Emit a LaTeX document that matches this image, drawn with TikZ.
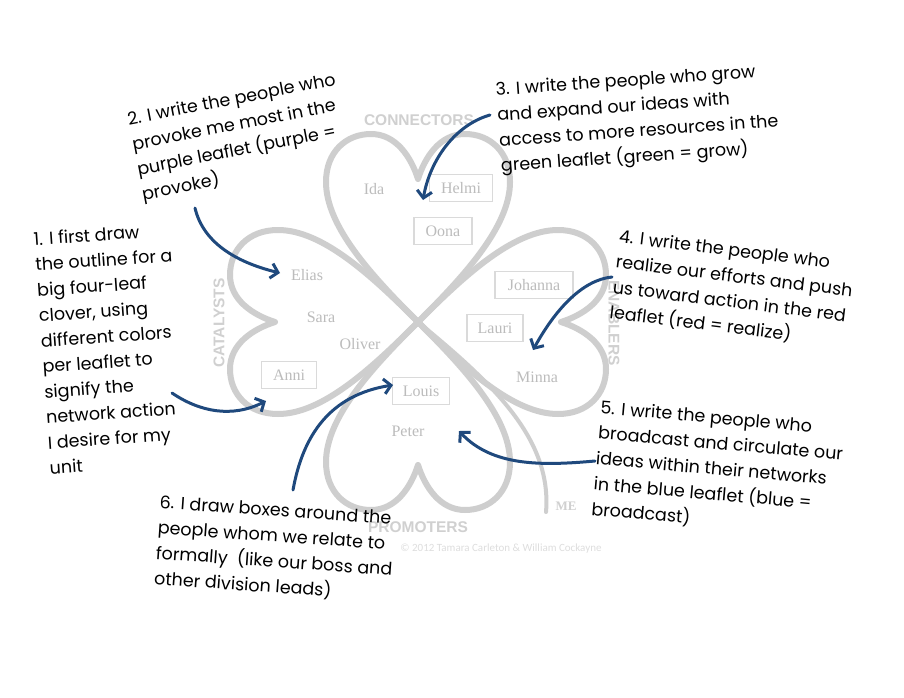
\documentclass[tikz,border=0pt]{standalone}
\usepackage{fontspec}
\setmainfont{Liberation Serif}
\newfontfamily\handfont{Poppins}
\newfontfamily\labfont{Liberation Sans}
\newfontfamily\copfont{Carlito}
\usetikzlibrary{arrows.meta}
\definecolor{arrowblue}{RGB}{31,73,125}
\definecolor{namegray}{RGB}{188,188,188}
\definecolor{boxgray}{RGB}{218,218,218}
\definecolor{labgray}{RGB}{208,208,208}
\definecolor{copgray}{RGB}{222,222,222}
\definecolor{leafgray}{RGB}{206,206,206}
\tikzset{
  leafline/.style={draw=leafgray, line width=6pt, line join=round},
  stemline/.style={draw=leafgray, line width=4pt, line cap=round},
  person/.style={font=\fontsize{16}{18}\selectfont, text=namegray, inner sep=2pt},
  personbox/.style={person, draw=boxgray, line width=1.5pt, inner xsep=8pt, minimum height=27pt},
  grouplabel/.style={font=\labfont\bfseries\fontsize{15.5}{17}\selectfont, text=labgray, inner sep=0pt},
  note/.style={font=\handfont\fontsize{17.5}{25.5}\selectfont, align=left, anchor=north west, inner sep=0pt, text=black},
  pointer/.style={draw=arrowblue, line width=3pt, -{Straight Barb[length=7pt,width=15pt]}, line cap=round}
}
\begin{document}
\begin{tikzpicture}[x=1pt,y=-1pt]
\useasboundingbox[fill=white] (0,0) rectangle (904,698);
% clover leaves
\foreach \r in {0,90,180,-90}{
  \draw[leafline, shift={(418,322)}, rotate=\r]
    (0,0) .. controls (45,-45) and (92,-95) .. (92,-140)
          .. controls (92,-170) and (72,-188) .. (47,-188)
          .. controls (22,-188) and (7,-165) .. (0,-143)
          .. controls (-7,-165) and (-22,-188) .. (-47,-188)
          .. controls (-72,-188) and (-92,-170) .. (-92,-140)
          .. controls (-92,-95) and (-45,-45) .. (0,0) -- cycle;
}
\coordinate (center) at (418,322);
\coordinate (stemend) at (546,512);
\draw[stemline] (center) .. controls (495,385) and (552,440) .. (stemend);
% group labels
\node[grouplabel] (connectors) at (419,120) {CONNECTORS};
\node[grouplabel, rotate=90] (catalysts) at (219,323) {CATALYSTS};
\node[grouplabel, rotate=-90] (enablers) at (614,323) {ENABLERS};
\node[grouplabel] (promoters) at (418,527) {PROMOTERS};
\node[font=\bfseries\fontsize{13}{15}\selectfont, text=labgray, inner sep=0pt] (me) at (566,506) {ME};
\node[font=\copfont\fontsize{11}{13}\selectfont, text=copgray, inner sep=0pt] (copy) at (501,549) {© 2012 Tamara Carleton \& William Cockayne};
% people
\node[person] (ida) at (374,189) {Ida};
\node[personbox, minimum width=63pt] (helmi) at (461,188) {Helmi};
\node[personbox, minimum width=58pt] (oona) at (443,231) {Oona};
\node[person] (elias) at (307,275) {Elias};
\node[person] (sara) at (321,317) {Sara};
\node[person] (oliver) at (360,344) {Oliver};
\node[personbox, minimum width=55pt] (anni) at (289,375) {Anni};
\node[personbox, minimum width=57pt] (louis) at (421,391) {Louis};
\node[person] (peter) at (408,431) {Peter};
\node[personbox, minimum width=78pt] (johanna) at (534,285) {Johanna};
\node[personbox, minimum width=56pt] (lauri) at (495,328) {Lauri};
\node[person] (minna) at (537,377) {Minna};
% notes
\node[note, rotate=4] (n1) at (33,232) {1. I first draw\\the outline for a\\big four-leaf\\clover, using\\different colors\\per leaflet to\\signify the\\network action\\I desire for my\\unit};
\node[note, rotate=11] (n2) at (126,112) {2. I write the people who\\provoke me most in the\\purple leaflet (purple =\\provoke)};
\node[note, rotate=4] (n3) at (495,82) {3. I write the people who grow\\and expand our ideas with\\access to more resources in the\\green leaflet (green = grow)};
\node[note, rotate=-7] (n4) at (620,229) {4. I write the people who\\realize our efforts and push\\us toward action in the red\\leaflet (red = realize)};
\node[note, rotate=-5] (n5) at (601,400) {5. I write the people who\\broadcast and circulate our\\ideas within their networks\\in the blue leaflet (blue =\\broadcast)};
\node[note, rotate=-4] (n6) at (160,495) {6. I draw boxes around the\\people whom we relate to\\formally\ \ (like our boss and\\other division leads)};
% arrow endpoints
\coordinate (a1s) at (172,393); \coordinate (a1e) at (266,401);
\coordinate (a2s) at (195,208); \coordinate (a2e) at (280,273);
\coordinate (a3s) at (490,115); \coordinate (a3e) at (423,200);
\coordinate (a4s) at (612,277); \coordinate (a4e) at (533,350);
\coordinate (a5s) at (595,461); \coordinate (a5e) at (459,431);
\coordinate (a6s) at (293,490); \coordinate (a6e) at (393,385);
\draw[pointer] (a1s) .. controls (200,412) and (232,418) .. (a1e);
\draw[pointer] (a2s) .. controls (203,242) and (235,262) .. (a2e);
\draw[pointer] (a3s) .. controls (455,125) and (430,160) .. (a3e);
\draw[pointer] (a4s) .. controls (582,280) and (555,310) .. (a4e);
\draw[pointer] (a5s) .. controls (540,466) and (492,466) .. (a5e);
\draw[pointer] (a6s) .. controls (303,435) and (330,395) .. (a6e);
\end{tikzpicture}
\end{document}
